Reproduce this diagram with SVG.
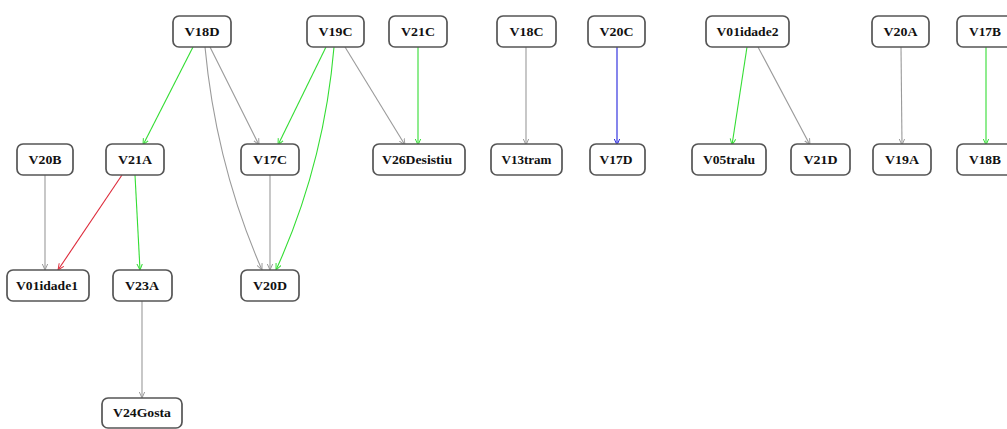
<svg xmlns="http://www.w3.org/2000/svg" width="1007" height="429" viewBox="0 0 1007 429">
  <style>
    .node rect { fill: #ffffff; stroke: #555555; stroke-width: 1.7; }
    .node text { font-family: "Liberation Serif", "Times New Roman", serif; font-weight: bold; font-size: 11.5px; fill: #111111; text-anchor: middle; dominant-baseline: central; }
    .edge { fill: none; stroke-width: 1.1; }
    .gray { stroke: #9a9a9a; }
    .green { stroke: #33dd33; }
    .red { stroke: #dd2a3a; }
    .blue { stroke: #2222dd; }
  </style>
  <defs>
    <marker id="ah-gray" viewBox="0 0 10 10" refX="9" refY="5" markerWidth="7" markerHeight="7" orient="auto" markerUnits="userSpaceOnUse">
      <polyline points="0,1 9,5 0,9" fill="none" stroke="#9a9a9a" stroke-width="1.4"/>
    </marker>
    <marker id="ah-green" viewBox="0 0 10 10" refX="9" refY="5" markerWidth="7" markerHeight="7" orient="auto" markerUnits="userSpaceOnUse">
      <polyline points="0,1 9,5 0,9" fill="none" stroke="#33dd33" stroke-width="1.4"/>
    </marker>
    <marker id="ah-red" viewBox="0 0 10 10" refX="9" refY="5" markerWidth="7" markerHeight="7" orient="auto" markerUnits="userSpaceOnUse">
      <polyline points="0,1 9,5 0,9" fill="none" stroke="#dd2a3a" stroke-width="1.4"/>
    </marker>
    <marker id="ah-blue" viewBox="0 0 10 10" refX="9" refY="5" markerWidth="7" markerHeight="7" orient="auto" markerUnits="userSpaceOnUse">
      <polyline points="0,1 9,5 0,9" fill="none" stroke="#2222dd" stroke-width="1.4"/>
    </marker>
  </defs>

  <!-- connectors -->
  <g id="edges">
    <path class="edge green" d="M193,47 L143,145" marker-end="url(#ah-green)"/>
    <path class="edge gray" d="M210,47 L259,145" marker-end="url(#ah-gray)"/>
    <path class="edge gray" d="M205,47 Q216,165 262,270" marker-end="url(#ah-gray)"/>
    <path class="edge green" d="M326,47 L278,145" marker-end="url(#ah-green)"/>
    <path class="edge green" d="M334,47 Q324,165 276,270" marker-end="url(#ah-green)"/>
    <path class="edge gray" d="M345,47 L405,145" marker-end="url(#ah-gray)"/>
    <path class="edge green" d="M418,47 L418,145" marker-end="url(#ah-green)"/>
    <path class="edge gray" d="M526,47 L526,145" marker-end="url(#ah-gray)"/>
    <path class="edge blue" d="M617,47 L617,145" marker-end="url(#ah-blue)"/>
    <path class="edge green" d="M747,47 L732,145" marker-end="url(#ah-green)"/>
    <path class="edge gray" d="M758,47 L810,145" marker-end="url(#ah-gray)"/>
    <path class="edge gray" d="M901,47 L902,145" marker-end="url(#ah-gray)"/>
    <path class="edge green" d="M986,47 L986,145" marker-end="url(#ah-green)"/>
    <path class="edge gray" d="M45,175 L45,270" marker-end="url(#ah-gray)"/>
    <path class="edge red" d="M122,175 L58,270" marker-end="url(#ah-red)"/>
    <path class="edge green" d="M135,175 L140,270" marker-end="url(#ah-green)"/>
    <path class="edge gray" d="M270,175 L270,270" marker-end="url(#ah-gray)"/>
    <path class="edge gray" d="M142,300 L142,398" marker-end="url(#ah-gray)"/>
  </g>

  <!-- row 1 -->
  <g id="V18D" class="node"><rect x="173" y="16" width="58" height="31" rx="6"/><text x="202" y="31.5" textLength="35" lengthAdjust="spacingAndGlyphs">V18D</text></g>
  <g id="V19C" class="node"><rect x="307" y="16" width="57" height="31" rx="6"/><text x="335.5" y="31.5" textLength="34" lengthAdjust="spacingAndGlyphs">V19C</text></g>
  <g id="V21C" class="node"><rect x="389" y="16" width="58" height="31" rx="6"/><text x="418" y="31.5" textLength="34" lengthAdjust="spacingAndGlyphs">V21C</text></g>
  <g id="V18C" class="node"><rect x="497" y="16" width="59" height="31" rx="6"/><text x="526.5" y="31.5" textLength="34" lengthAdjust="spacingAndGlyphs">V18C</text></g>
  <g id="V20C" class="node"><rect x="588" y="16" width="57" height="31" rx="6"/><text x="616.5" y="31.5" textLength="34" lengthAdjust="spacingAndGlyphs">V20C</text></g>
  <g id="V01idade2" class="node"><rect x="706" y="16" width="83" height="31" rx="6"/><text x="747.5" y="31.5" textLength="62" lengthAdjust="spacingAndGlyphs">V01idade2</text></g>
  <g id="V20A" class="node"><rect x="872" y="16" width="57" height="31" rx="6"/><text x="900.5" y="31.5" textLength="34" lengthAdjust="spacingAndGlyphs">V20A</text></g>
  <g id="V17B" class="node"><rect x="957" y="16" width="58" height="31" rx="6"/><text x="985" y="31.5" textLength="32" lengthAdjust="spacingAndGlyphs">V17B</text></g>

  <!-- row 2 -->
  <g id="V20B" class="node"><rect x="17" y="144" width="56" height="31" rx="6"/><text x="45" y="159.5" textLength="33" lengthAdjust="spacingAndGlyphs">V20B</text></g>
  <g id="V21A" class="node"><rect x="106" y="144" width="58" height="31" rx="6"/><text x="135" y="159.5" textLength="34" lengthAdjust="spacingAndGlyphs">V21A</text></g>
  <g id="V17C" class="node"><rect x="241" y="144" width="58" height="31" rx="6"/><text x="270" y="159.5" textLength="34" lengthAdjust="spacingAndGlyphs">V17C</text></g>
  <g id="V26Desistiu" class="node"><rect x="373" y="144" width="92" height="31" rx="6"/><text x="417" y="159.5" textLength="70" lengthAdjust="spacingAndGlyphs">V26Desistiu</text></g>
  <g id="V13tram" class="node"><rect x="491" y="144" width="71" height="31" rx="6"/><text x="526.5" y="159.5" textLength="50" lengthAdjust="spacingAndGlyphs">V13tram</text></g>
  <g id="V17D" class="node"><rect x="590" y="144" width="55" height="31" rx="6"/><text x="616" y="159.5" textLength="33" lengthAdjust="spacingAndGlyphs">V17D</text></g>
  <g id="V05tralu" class="node"><rect x="692" y="144" width="74" height="31" rx="6"/><text x="729" y="159.5" textLength="52" lengthAdjust="spacingAndGlyphs">V05tralu</text></g>
  <g id="V21D" class="node"><rect x="791" y="144" width="59" height="31" rx="6"/><text x="820.5" y="159.5" textLength="34" lengthAdjust="spacingAndGlyphs">V21D</text></g>
  <g id="V19A" class="node"><rect x="873" y="144" width="58" height="31" rx="6"/><text x="902" y="159.5" textLength="34" lengthAdjust="spacingAndGlyphs">V19A</text></g>
  <g id="V18B" class="node"><rect x="957" y="144" width="58" height="31" rx="6"/><text x="985" y="159.5" textLength="32" lengthAdjust="spacingAndGlyphs">V18B</text></g>

  <!-- row 3 -->
  <g id="V01idade1" class="node"><rect x="7" y="270" width="82" height="31" rx="6"/><text x="47" y="285.5" textLength="62" lengthAdjust="spacingAndGlyphs">V01idade1</text></g>
  <g id="V23A" class="node"><rect x="113" y="270" width="59" height="31" rx="6"/><text x="142" y="285.5" textLength="34" lengthAdjust="spacingAndGlyphs">V23A</text></g>
  <g id="V20D" class="node"><rect x="241" y="270" width="58" height="31" rx="6"/><text x="270" y="285.5" textLength="34" lengthAdjust="spacingAndGlyphs">V20D</text></g>

  <!-- row 4 -->
  <g id="V24Gosta" class="node"><rect x="102" y="398" width="80" height="30" rx="6"/><text x="142" y="413" textLength="58" lengthAdjust="spacingAndGlyphs">V24Gosta</text></g>
</svg>
